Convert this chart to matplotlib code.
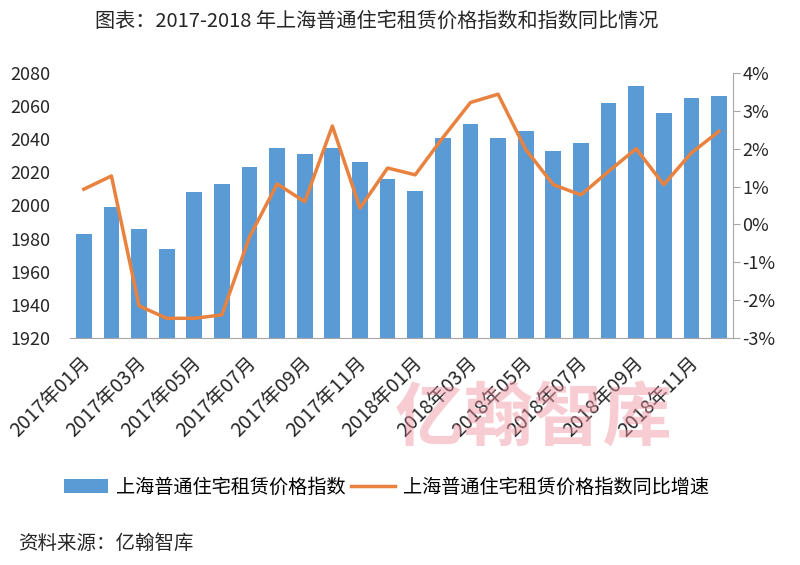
import matplotlib.pyplot as plt
from matplotlib.ticker import FuncFormatter
from matplotlib.transforms import ScaledTranslation
import numpy as np

plt.rcParams['font.family'] = ['Noto Sans CJK SC', 'DejaVu Sans']

months = [f"{y}年{m:02d}月" for y in (2017, 2018) for m in range(1, 13)]
index_values = [1983, 1999, 1986, 1974, 2008, 2013, 2023, 2035, 2031, 2035, 2026, 2016,
                2009, 2041, 2049, 2041, 2045, 2033, 2038, 2062, 2072, 2056, 2065, 2066]
yoy_growth = [0.93, 1.28, -2.15, -2.48, -2.48, -2.39, -0.33, 1.07, 0.60, 2.60, 0.43, 1.49,
              1.31, 2.29, 3.22, 3.44, 1.98, 1.05, 0.78, 1.40, 2.00, 1.05, 1.89, 2.46]
bar_label = "上海普通住宅租赁价格指数"
line_label = "上海普通住宅租赁价格指数同比增速"

blue = "#5B9BD5"
orange = "#E8823E"
grey = "#A6A6A6"
text_c = "#262626"

fig = plt.figure(figsize=(8, 5.65), dpi=100)
ax = fig.add_axes([0.0875, 0.4018, 0.8285, 0.469])
x = np.arange(len(months))

# watermark behind everything
fig.text(0.667, 0.257, "亿翰智库", fontsize=50, color="#EE8E9E", alpha=0.45,
         fontweight="bold", ha="center", va="center", zorder=0)

bars = ax.bar(x, index_values, width=0.57, color=blue, zorder=2, label=bar_label)
ax.set_ylim(1920, 2080)
ax.set_yticks(range(1920, 2081, 20))
ax.set_xlim(-0.5, len(months) - 0.5)
ax.tick_params(axis="y", length=0, labelsize=13, pad=14, labelcolor=text_c)
for s in ("top", "right", "left"):
    ax.spines[s].set_visible(False)
ax.spines["bottom"].set_color(grey)
ax.patch.set_alpha(0)

ax.set_xticks(x[::2])
ax.set_xticklabels(months[::2], rotation=45, ha="right", va="center",
                   rotation_mode="anchor", fontsize=14, color=text_c)
ax.tick_params(axis="x", length=0, pad=16)
shift = ScaledTranslation(4 / 100, 0, fig.dpi_scale_trans)
for lab in ax.get_xticklabels():
    lab.set_transform(lab.get_transform() + shift)

ax2 = ax.twinx()
line, = ax2.plot(x, yoy_growth, color=orange, lw=2.5, zorder=3, label=line_label)
ax2.set_ylim(-3, 4)
ax2.set_yticks(range(-3, 5))
ax2.yaxis.set_major_formatter(FuncFormatter(lambda v, p: f"{int(v)}%"))
ax2.tick_params(axis="y", length=5, color=grey, labelsize=13, pad=2, labelcolor=text_c)
for s in ("top", "left", "bottom"):
    ax2.spines[s].set_visible(False)
ax2.spines["right"].set_color(grey)

fig.text(0.119, 0.962, "图表：2017-2018 年上海普通住宅租赁价格指数和指数同比情况",
         fontsize=14.5, color=text_c, ha="left", va="center")

fig.legend([bars, line], [bar_label, line_label], loc="center",
           bbox_to_anchor=(0.483, 0.138), ncol=2, frameon=False, fontsize=13.8,
           handlelength=2.3, handletextpad=0.4, columnspacing=0.3)

fig.text(0.022, 0.038, "资料来源：亿翰智库", fontsize=14, color=text_c,
         ha="left", va="center")

fig.savefig("out.png", dpi=100)
